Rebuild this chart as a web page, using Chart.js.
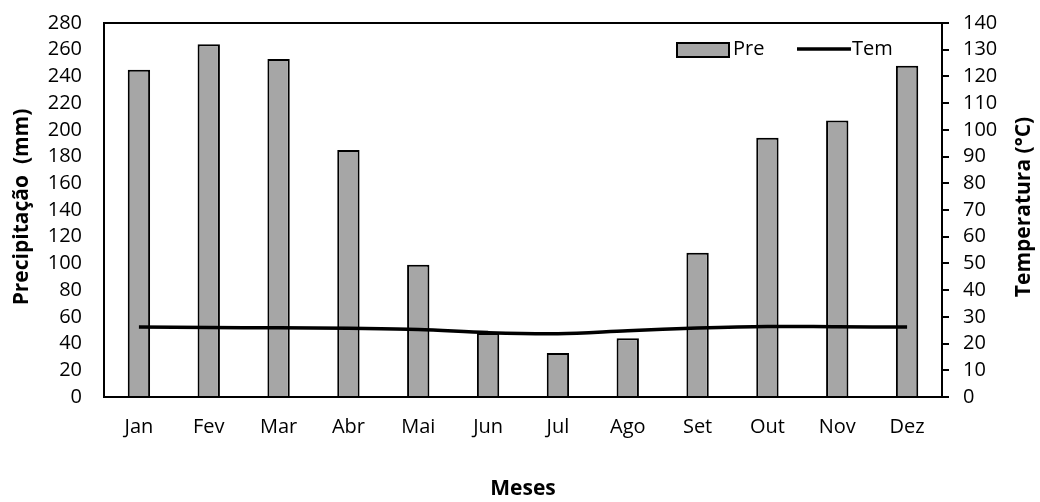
<!DOCTYPE html>
<html>
<head>
<meta charset="utf-8">
<script src="https://cdn.jsdelivr.net/npm/chart.js@4"></script>
<style>
    html, body { margin: 0; padding: 0; background: #fff; }
    #wrap { width: 1040px; height: 502px; position: relative; }
</style>
</head>
<body>
<div id="wrap"><canvas id="climateChart"></canvas></div>
<script>
// Chart data
const months = ['Jan', 'Fev', 'Mar', 'Abr', 'Mai', 'Jun', 'Jul', 'Ago', 'Set', 'Out', 'Nov', 'Dez'];
const precipitation = [245, 264, 253, 185, 99, 48, 33, 44, 108, 194, 207, 248];
const temperature = [26.2, 26.0, 25.9, 25.7, 25.3, 24.1, 23.7, 24.8, 25.8, 26.4, 26.3, 26.2];
const precipTicks = [0, 280, 20];   // min, max, step
const tempTicks = [0, 140, 10];

const FONT = '"Open Sans", "DejaVu Sans", sans-serif';

// Frame, axis titles and the legend inside the plot area
const decorPlugin = {
    id: 'decor',
    afterDraw(chart) {
        const ctx = chart.ctx;
        const area = chart.chartArea;
        ctx.save();

        // plot border
        ctx.strokeStyle = '#000';
        ctx.lineWidth = 2;
        ctx.strokeRect(area.left, area.top, area.right - area.left, area.bottom - area.top);

        // axis titles
        ctx.fillStyle = '#000';
        ctx.font = 'bold 21px ' + FONT;
        ctx.textAlign = 'center';
        ctx.textBaseline = 'middle';

        ctx.save();
        ctx.translate(22, 207);
        ctx.rotate(-Math.PI / 2);
        ctx.fillText('Precipitação  (mm)', 0, 0);
        ctx.restore();

        ctx.save();
        ctx.translate(1024, 207);
        ctx.rotate(-Math.PI / 2);
        ctx.fillText('Temperatura (°C)', 0, 0);
        ctx.restore();

        ctx.fillText('Meses', (area.left + area.right) / 2, 489);

        // legend
        const bars = chart.data.datasets.find(d => d.type === 'bar');
        const line = chart.data.datasets.find(d => d.type === 'line');
        ctx.font = '20px ' + FONT;
        ctx.textAlign = 'left';

        ctx.fillStyle = bars.backgroundColor;
        ctx.fillRect(677, 43, 52, 14);
        ctx.lineWidth = 2;
        ctx.strokeStyle = '#000';
        ctx.strokeRect(677, 43, 52, 14);
        ctx.fillStyle = '#000';
        ctx.fillText(bars.label, 733, 49);

        ctx.beginPath();
        ctx.moveTo(797, 49);
        ctx.lineTo(851, 49);
        ctx.lineWidth = line.borderWidth;
        ctx.strokeStyle = line.borderColor;
        ctx.stroke();
        ctx.fillText(line.label, 852, 49);

        ctx.restore();
    }
};

const tickFont = { family: FONT, size: 20 };

// fixed scale sizes so the plot area lands where the reference has it
function fixSize(prop, value) {
    return function (scale) {
        scale[prop] = value;
        scale.paddingTop = 0;
        scale.paddingBottom = 0;
        scale.paddingLeft = 0;
        scale.paddingRight = 0;
    };
}

const ctx = document.getElementById('climateChart').getContext('2d');
const climateChart = new Chart(ctx, {
    data: {
        labels: months,
        datasets: [
            {
                type: 'line',
                label: 'Tem',
                data: temperature,
                yAxisID: 'y1',
                borderColor: '#000',
                borderWidth: 3.5,
                pointRadius: 0,
                tension: 0.35,
                fill: false,
                order: 0
            },
            {
                type: 'bar',
                label: 'Pre',
                data: precipitation,
                yAxisID: 'y',
                backgroundColor: '#a6a6a6',
                borderColor: '#000',
                borderWidth: 2,
                barPercentage: 0.32,
                categoryPercentage: 1,
                order: 1
            }
        ]
    },
    options: {
        responsive: true,
        maintainAspectRatio: false,
        animation: false,
        layout: { padding: { top: 23, left: 0, right: 0, bottom: 0 } },
        plugins: {
            legend: { display: false },
            tooltip: { enabled: false }
        },
        scales: {
            x: {
                grid: { display: false, drawTicks: false },
                border: { display: false },
                ticks: { color: '#000', font: tickFont, padding: 18, maxRotation: 0, autoSkip: false },
                afterFit: fixSize('height', 105)
            },
            y: {
                position: 'left',
                min: precipTicks[0],
                max: precipTicks[1],
                grid: { drawOnChartArea: false, drawTicks: false },
                border: { display: false },
                ticks: { stepSize: precipTicks[2], color: '#000', font: tickFont, padding: 22, autoSkip: false },
                afterFit: fixSize('width', 104)
            },
            y1: {
                position: 'right',
                min: tempTicks[0],
                max: tempTicks[1],
                grid: { drawOnChartArea: false, drawTicks: true, tickLength: 7, color: '#000', lineWidth: 2 },
                border: { display: false },
                ticks: { stepSize: tempTicks[2], color: '#000', font: tickFont, padding: 14, autoSkip: false },
                afterFit: fixSize('width', 98)
            }
        }
    },
    plugins: [decorPlugin]
});
</script>
</body>
</html>
